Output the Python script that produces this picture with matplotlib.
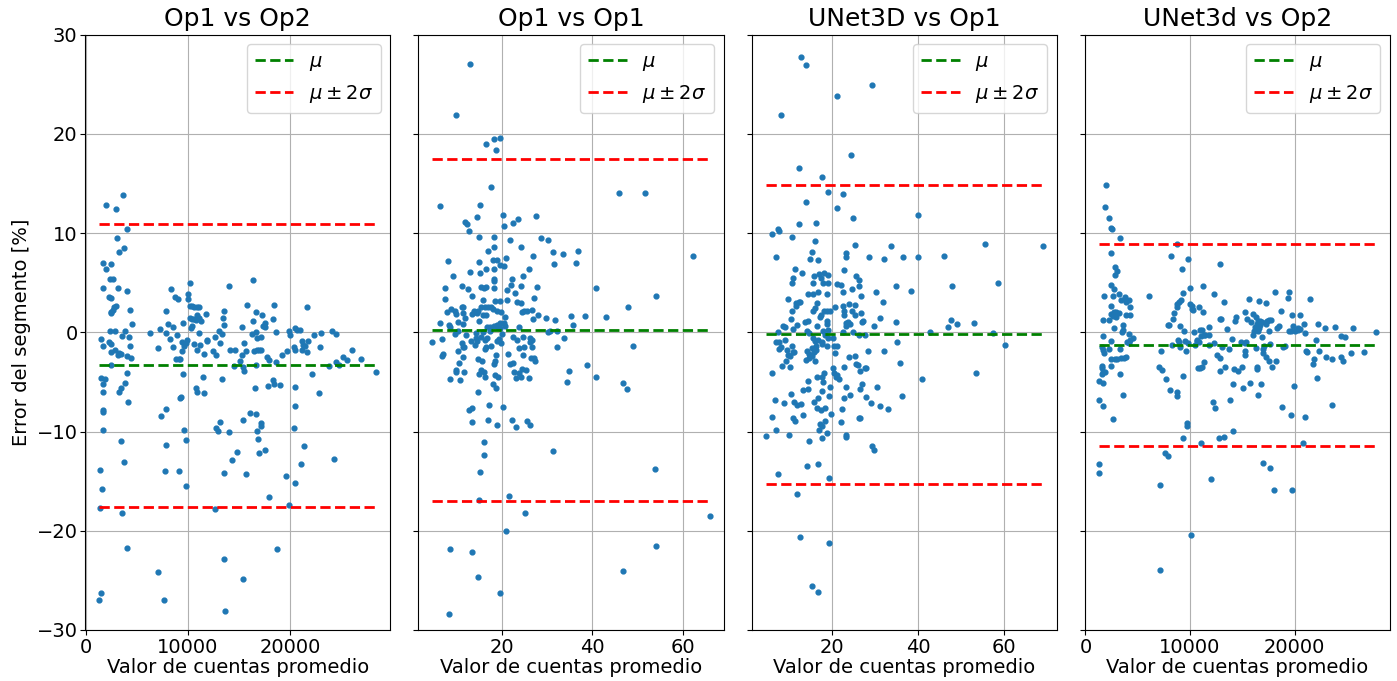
import numpy as np
import matplotlib
matplotlib.use("Agg")
import matplotlib.pyplot as plt

titles = ["Op1 vs Op2", "Op1 vs Op1", "UNet3D vs Op1", "UNet3d vs Op2"]

# (valor promedio, error %)
op1_op2 = [
    (1960, 12.8), (2930, 12.4), (3650, 13.8), (4080, 10.4),
    (3030, 9.5), (3750, 8.5), (3290, 8.1), (1730, 7.0), (2510, 6.9), (1990, 6.4), (2380, 5.4), (2710, 5.4),
    (1660, 4.5), (3130, 4.5), (4010, 4.2), (2320, 3.6), (2510, 3.5), (2970, 2.7), (2770, 2.6), (2670, 2.3),
    (2510, 2.0), (2450, 1.9), (4340, 2.3), (4500, 0.8), (2380, 0.1), (2840, 0.1), (3880, 0.1), (3550, -0.4),
    (1530, -0.7), (2280, -1.0), (2450, -1.2), (1730, -1.4), (4270, -0.5), (4300, -1.4), (2870, -1.8),
    (2510, -2.0), (3260, -2.1), (3460, -2.2), (3200, -2.3), (4080, -2.4), (4470, -2.6), (2510, -3.3),
    (1530, -4.6), (1890, -4.7), (1730, -5.2), (1660, -6.0), (4010, -4.1), (3850, -5.1), (3420, -5.6),
    (3290, -6.0), (4170, -7.0), (1660, -7.8), (1660, -8.0),
    (6260, -0.1), (7240, 0.3), (7040, -1.6), (7890, 2.2), (8310, 4.4), (8090, 0.8), (8510, 0.5), (7890, -0.1),
    (8280, -0.7), (8510, -1.5), (8740, 3.6), (9030, 3.4), (8930, -0.3), (9550, 0.9), (9450, -1.0),
    (9590, -1.4), (9450, -1.9), (8870, -2.7), (9130, -2.7), (9230, -2.7), (9550, -4.2), (9230, -6.6),
    (9290, -6.5), (7820, -7.7), (7340, -8.4), (9880, -0.8), (9780, -1.1), (9980, 3.4), (10040, 3.9),
    (10170, 5.0), (10240, 2.7), (10430, 2.7), (10600, 2.6), (10920, 2.6), (11080, 2.6), (10170, 1.4),
    (10430, 1.3), (10630, 1.3), (10790, 1.2), (10920, 1.7), (11080, 1.4), (11310, 1.1), (11740, 1.8),
    (10370, 0.6), (10270, 0.4), (11120, -0.1), (10600, -1.2), (11180, -1.3), (10920, -1.8), (11540, -2.2),
    (11830, -0.8), (11900, -0.9), (10760, -5.6), (10860, -6.0), (11540, -6.1), (11440, -4.5), (12450, -1.9),
    (12780, -2.3), (12680, -0.5), (13100, 0.1), (13370, -0.2), (13140, -1.1), (13500, 2.2), (13460, 1.4),
    (13530, 0.7), (13300, -4.7), (13140, -9.0), (13990, 4.7), (14180, -1.8), (14670, -1.8), (14570, -3.4),
    (15090, -2.9), (15320, -2.3), (15490, -1.1), (15420, -3.5), (15710, -1.9), (15810, 2.8), (15290, 0.5),
    (15390, -8.8), (16140, -8.1), (16690, -8.2), (17180, -9.1), (15490, -3.9), (16370, 5.3), (16690, 2.0),
    (16430, 1.1), (16240, -0.2), (16720, 0.0), (16460, -1.9), (16820, -1.8), (16980, -1.8), (17180, -1.8),
    (16630, -5.6), (16690, -3.3), (16820, -0.6), (17150, -0.5), (17310, 1.7), (17540, 0.9), (17540, 0.5),
    (17380, 0.6), (17800, -2.5), (17960, -2.8), (17870, -5.4), (18350, -4.8), (18420, -5.2), (19070, -5.3),
    (18320, 1.3), (18480, 2.8), (18680, 0.0), (18680, -3.0), (19200, -2.3), (19720, -1.9), (19950, 0.1),
    (20050, -0.3), (20510, -1.8), (20540, -5.5), (20510, -7.4), (20440, -9.6), (20540, 0.4), (20700, 0.2),
    (20960, 0.2), (20440, -1.5), (21160, -0.9), (21190, -1.8), (21290, -1.3), (21520, -1.4), (21810, -0.9),
    (21710, -2.0), (21650, 2.6), (22140, -4.2), (22400, -0.3), (23050, -0.1), (22980, -1.5), (22890, -6.1),
    (23800, -3.4), (24120, 0.1), (24520, -0.2), (24550, -3.0), (24780, -3.3), (25200, -2.5), (25590, -2.8),
    (26080, -1.8), (26930, -2.7), (28490, -4.0),
    (1730, -9.8), (3460, -11.0), (3720, -13.1), (1370, -13.9), (1630, -15.8), (1370, -17.7), (3550, -18.2),
    (4010, -21.7), (1470, -26.3), (1300, -27.0), (7890, -11.4), (7730, -14.0), (7110, -24.2), (7660, -27.0),
    (9130, -14.0), (9650, -9.8), (9780, -10.9), (9780, -15.5), (12680, -17.8), (12780, -9.6), (12910, -9.9),
    (14080, -10.0), (14830, -12.1), (14340, -12.9), (13560, -14.2), (13560, -22.9), (13690, -28.1),
    (15710, -14.3), (15390, -24.9), (16790, -9.9), (16850, -10.8), (16950, -12.2), (17540, -11.9),
    (17210, -9.4), (18000, -16.6), (18780, -21.8), (19630, -14.5), (19890, -17.4), (20510, -15.2),
    (21090, -13.3), (21350, -11.5), (24320, -12.8),
]

op1_op1 = [
    (12.9, 27.0), (9.7, 21.9), (16.3, 19.0), (18.2, 19.5), (19.6, 19.6), (18.7, 18.4), (17.5, 14.6), (6.2, 12.7),
    (15.0, 12.8), (14.3, 11.6), (11.7, 11.1), (12.3, 10.9), (20.1, 11.8), (20.5, 10.7), (22.4, 11.0), (23.5, 11.4),
    (27.5, 11.7), (45.9, 14.0), (51.7, 14.0),
    (12.7, 10.2), (14.8, 9.6), (18.2, 9.6), (21.8, 9.3), (24.1, 8.6), (28.5, 9.5), (30.1, 9.3), (18.2, 8.6),
    (16.8, 8.2), (7.9, 7.2), (14.8, 7.1), (18.0, 7.3), (18.8, 7.3), (20.9, 7.5), (19.5, 6.8), (20.4, 6.7),
    (26.8, 7.7), (31.3, 8.1), (33.5, 7.9), (36.9, 8.2), (36.4, 7.0), (31.5, 6.9), (12.9, 6.1), (15.0, 6.0),
    (16.3, 6.4), (18.2, 6.4), (26.0, 6.4), (9.1, 5.7), (18.2, 5.4), (18.2, 5.2), (22.1, 5.4), (24.6, 5.7),
    (7.3, 4.5), (11.0, 4.7), (12.4, 4.4), (15.4, 4.6), (16.0, 4.5), (16.3, 4.6), (18.2, 4.5), (21.1, 4.3),
    (22.8, 4.0), (22.0, 4.8), (24.2, 4.7), (27.7, 4.6), (40.8, 4.5), (54.2, 3.7), (7.3, 3.4), (13.4, 3.7),
    (15.8, 3.3), (18.5, 3.2), (19.6, 3.2), (21.0, 3.3), (23.3, 3.1), (24.1, 3.0), (27.0, 3.5), (47.8, 2.6),
    (8.7, 2.4), (9.6, 2.2), (11.0, 2.6), (11.4, 2.6), (7.7, 2.0), (9.8, 1.8), (11.4, 1.9), (13.7, 2.1),
    (14.6, 2.1), (15.4, 2.6), (16.2, 2.6), (16.8, 2.6), (17.6, 2.6), (18.0, 2.4), (13.4, 1.8), (13.9, 2.0),
    (14.3, 1.9), (15.8, 1.7), (16.5, 1.7), (18.9, 2.1), (19.8, 2.0), (24.3, 2.0), (24.9, 2.1), (25.5, 2.2),
    (26.6, 2.3), (20.7, 1.5), (27.9, 1.7), (29.8, 1.4), (31.6, 1.2), (26.9, 1.3), (35.2, 1.6), (38.3, 1.6),
    (43.1, 1.5), (35.6, 0.7), (6.2, 0.9), (8.1, 0.7), (8.4, 0.5), (10.3, 1.0), (11.2, 0.8), (11.7, 1.4),
    (14.8, 1.1), (16.6, 0.5), (17.4, 0.5), (18.2, 0.6), (18.8, 0.7), (19.5, 0.9), (20.4, 0.9), (20.7, 0.6),
    (19.6, 0.4), (19.0, 0.5), (23.8, 0.5), (9.5, -0.2), (10.1, 0.1), (11.9, -0.3), (14.2, -0.1), (15.7, 0.0),
    (17.4, 0.1), (19.9, -0.2), (30.1, 0.0), (30.7, 0.1), (32.2, 0.1), (4.5, -1.0), (6.6, -0.7), (6.6, -2.4),
    (6.8, -2.2), (10.1, -1.9), (11.4, -1.5), (11.0, -1.1), (11.6, -1.5), (13.0, -0.9), (14.1, -0.6),
    (14.3, -0.9), (15.2, -0.5), (16.1, -0.8), (16.7, -0.6), (14.0, -1.3), (16.1, -1.7), (16.3, -1.5),
    (17.6, -1.4), (18.9, -0.9), (19.3, -0.7), (19.8, -1.1), (11.2, -2.5), (10.4, -3.1), (18.7, -2.3),
    (21.3, -2.2), (22.5, -0.5), (23.2, -0.8), (23.8, -1.6), (24.9, -1.5), (24.5, -0.5), (26.1, -0.6),
    (26.6, -0.8), (26.2, -1.0), (26.7, -1.5), (24.7, -2.3), (26.3, -2.6), (27.1, -2.6), (27.3, -2.9),
    (14.6, -2.7), (15.5, -2.9), (18.3, -2.9), (18.1, -3.2), (21.7, -3.2), (22.3, -3.1), (22.6, -4.0),
    (23.8, -4.1), (24.4, -3.7), (25.2, -3.8), (24.2, -4.5), (23.0, -4.6), (26.0, -4.6), (9.7, -3.8),
    (9.8, -4.0), (11.5, -4.0), (8.4, -4.7), (10.7, -4.8), (14.8, -4.2), (15.4, -3.8), (16.0, -4.0),
    (16.1, -4.5), (18.5, -4.3), (19.1, -4.5), (17.9, -5.2), (18.7, -5.6), (14.6, -6.0), (32.2, -1.5),
    (33.6, -0.6), (34.7, -3.9), (34.4, -5.0), (38.7, -3.3), (40.7, -4.5), (48.9, -1.4), (46.7, -5.1),
    (47.6, -5.7), (62.3, 7.7), (12.6, -7.8), (13.2, -7.6), (17.0, -7.3), (20.1, -7.5), (13.2, -9.0),
    (16.8, -8.8), (18.9, -9.3), (22.2, -8.8), (25.6, -8.9), (26.2, -9.3),
    (23.0, -9.5), (16.0, -11.1), (16.0, -12.4), (31.3, -12.0), (15.1, -14.1), (14.9, -16.9), (21.5, -16.5),
    (25.0, -18.2), (20.9, -20.0), (53.9, -13.8), (66.0, -18.5), (8.5, -21.8), (13.4, -22.1), (54.2, -21.5),
    (46.7, -24.1), (14.6, -24.7), (19.5, -26.3), (8.3, -28.4),
]

unet_op1 = [
    (12.9, 27.8), (14.1, 26.9), (29.3, 24.9), (21.2, 23.8), (8.3, 21.9), (24.4, 17.9), (12.4, 16.6), (17.6, 15.7),
    (19.2, 14.1), (22.6, 13.9), (13.9, 13.1), (21.2, 12.5), (25.0, 11.5), (40.0, 11.8), (12.3, 10.9), (16.4, 11.0),
    (7.6, 10.4),
    (6.1, 9.9), (7.7, 10.2), (10.7, 9.6), (16.0, 9.2), (7.1, 7.6), (15.4, 8.1), (15.0, 7.4), (16.8, 7.3),
    (23.2, 8.0), (23.2, 7.6), (25.4, 8.8), (28.7, 7.6), (32.2, 7.4), (33.7, 8.7), (36.5, 7.6), (40.1, 7.6),
    (46.0, 7.7), (55.5, 8.9), (69.0, 8.7), (11.5, 6.4), (13.0, 6.0), (11.0, 5.5), (10.7, 5.0), (15.8, 5.7),
    (15.7, 5.0), (16.9, 5.9), (17.4, 5.5), (18.2, 6.0), (19.1, 5.8), (17.9, 5.0), (19.2, 5.0), (22.9, 6.3),
    (25.6, 5.7), (26.4, 5.3), (21.3, 4.9), (22.1, 4.8), (26.3, 4.7), (24.6, 4.4), (22.6, 4.1), (26.7, 3.7),
    (14.4, 3.9), (15.6, 3.9), (16.8, 4.1), (18.8, 3.9), (9.8, 3.4), (11.7, 3.0), (12.3, 3.1), (12.7, 3.1),
    (11.6, 2.7), (16.5, 3.0), (16.1, 2.5), (20.7, 2.6), (22.6, 2.7), (23.9, 2.9), (25.4, 2.8), (22.9, 2.2),
    (10.8, 2.2), (15.6, 2.2), (17.5, 1.7), (17.2, 1.5), (18.2, 2.2), (18.8, 2.1), (19.5, 2.1), (24.6, 2.1),
    (26.7, 1.9), (25.4, 1.7), (22.9, 1.7), (10.4, 1.3), (14.4, 1.1), (13.8, 1.0), (18.8, 1.1), (18.8, 0.8),
    (16.5, 0.6), (23.3, 0.9), (23.8, 1.0), (24.2, 0.8), (23.2, 0.6), (27.0, 1.0), (27.3, 1.1), (30.2, 4.1),
    (31.8, 3.1), (34.8, 4.7), (38.4, 4.2), (31.2, 1.4), (29.7, 0.6), (34.8, 1.0), (47.7, 1.2), (49.0, 0.8),
    (47.0, 0.5), (53.1, 0.9), (47.9, 4.7), (58.6, 5.0), (42.7, 0.0), (57.5, -0.1), (60.3, -1.3), (7.5, 0.0),
    (8.7, 0.6), (9.2, 0.5), (10.9, 0.3), (12.0, 0.7), (14.2, 0.1), (14.7, -0.1), (18.0, 0.1), (19.1, 0.2),
    (18.4, -0.3), (22.5, 0.0), (24.9, 0.0), (26.3, -0.3), (27.6, -0.3), (7.1, -1.0), (7.7, -1.0), (9.2, -0.8),
    (7.8, -1.7), (8.3, -1.5), (10.8, -1.4), (11.0, -2.0), (11.2, -2.0), (9.6, -1.8), (9.9, -2.3), (10.2, -2.4),
    (9.4, -2.9), (8.4, -3.4), (10.3, -3.5), (6.1, -4.1), (15.6, -0.6), (16.0, -0.9), (16.7, -0.8), (17.7, -1.0),
    (18.8, -1.4), (17.6, -1.2), (14.3, -1.9), (14.8, -2.2), (15.8, -2.0), (16.4, -1.8), (16.3, -1.4),
    (15.3, -1.6), (14.1, -2.8), (14.7, -2.6), (16.0, -2.9), (15.4, -2.4), (20.2, -0.6), (20.5, -1.4),
    (21.2, -1.4), (20.7, -2.1), (19.2, -0.6), (23.9, -2.5), (25.4, -2.4), (25.6, -3.2), (26.0, -3.3),
    (27.9, -3.6), (22.9, -3.5), (28.3, -1.9), (32.2, -1.9), (35.1, -1.0), (35.9, -3.1), (18.2, -4.1),
    (16.5, -4.5), (17.6, -4.5), (20.2, -3.6), (20.5, -4.1), (21.2, -4.3), (21.0, -4.5), (21.6, -4.7),
    (26.5, -3.9), (27.6, -3.6), (14.4, -4.9), (17.9, -5.0), (19.5, -5.5), (13.4, -5.8), (14.5, -5.7),
    (17.6, -5.9), (16.8, -6.6), (15.8, -7.0), (23.3, -5.5), (26.9, -5.2), (26.6, -5.7), (24.3, -6.3),
    (22.9, -6.6), (27.9, -6.5), (29.2, -7.1), (31.1, -7.4), (33.0, -7.7), (30.5, -5.5), (36.3, -6.4),
    (40.9, -4.7), (53.4, -4.1), (6.7, -6.8), (8.8, -7.1), (10.6, -6.2), (11.2, -7.0), (11.8, -7.3),
    (12.9, -7.2), (16.6, -7.6), (17.5, -7.8), (18.5, -7.6), (19.4, -6.4), (22.3, -7.7), (13.4, -8.3),
    (6.0, -8.5), (11.0, -8.6), (11.5, -8.9), (19.7, -8.2), (18.3, -8.9), (17.3, -9.2), (22.2, -9.0),
    (26.2, -8.6), (26.6, -8.6),
    (4.6, -10.5), (7.0, -9.8), (10.0, -10.3), (14.7, -11.0), (16.9, -9.8), (17.6, -9.4), (17.8, -10.7),
    (18.8, -10.1), (23.2, -10.4), (23.2, -10.6), (29.3, -11.5), (29.7, -11.9), (7.5, -14.3), (14.3, -13.5),
    (16.8, -13.3), (19.4, -14.7), (12.0, -16.3), (12.7, -20.6), (19.4, -21.2), (15.4, -25.6), (16.8, -26.2),
]

unet_op2 = [
    (2010, 14.9), (1910, 12.6), (2260, 11.5), (2480, 10.5),
    (2520, 10.4), (3280, 9.5), (8730, 8.9), (2420, 8.0), (8190, 7.7), (9780, 7.4), (12840, 6.9), (2840, 6.6),
    (3030, 6.2), (2870, 5.8), (9210, 6.4), (2420, 4.8), (2740, 4.4), (1750, 3.7), (2640, 3.7), (3190, 3.9),
    (3380, 3.3), (3760, 3.6), (3920, 3.3), (4200, 3.3), (3850, 3.1), (6050, 3.7), (9970, 4.5), (11280, 4.7),
    (12290, 3.9), (9330, 4.0), (9110, 3.3), (8790, 2.9), (8950, 3.1), (8730, 2.6), (10190, 2.7), (10290, 2.3),
    (10830, 2.6), (13220, 3.1), (15610, 3.4), (16590, 3.2), (17290, 3.0), (18150, 4.1), (19360, 3.5),
    (19430, 4.1), (21440, 3.4), (2480, 2.7), (2450, 1.8), (2740, 2.0), (2610, 1.6), (2960, 2.0), (3190, 1.9),
    (2960, 1.5), (4240, 2.6), (3850, 1.7), (4300, 1.7), (1690, 1.2), (2260, 1.2), (3600, 0.7), (2770, 0.4),
    (3470, 0.0), (3600, 0.2), (4140, -0.2), (4550, -0.6), (4300, -0.8), (4010, -1.0), (4170, -1.1),
    (1690, -0.4), (2450, -0.9), (1620, -1.5), (1690, -1.8), (1750, -2.1), (2230, -1.7), (3280, -1.7),
    (2480, -2.7), (2800, -2.7), (3060, -2.7), (3410, -2.6), (3660, -2.6), (3850, -2.5), (2480, -3.4),
    (1560, -3.4), (1620, -3.6), (1690, -4.0), (1560, -4.2), (1910, -4.0), (3280, -4.2), (1270, -4.9),
    (1690, -5.1), (3600, -6.3), (1340, -6.8), (1660, -7.4), (2680, -8.7), (7260, -1.9), (7070, -3.5),
    (7360, -3.8), (7680, -4.7), (8090, -5.8), (8730, -6.0), (8760, -6.4), (8030, 0.7), (7900, 0.7),
    (8350, 1.3), (8500, 1.9), (9080, 0.6), (9400, 0.1), (8860, -0.8), (8950, -1.0), (9080, -1.5), (9520, -0.9),
    (9620, -1.9), (9780, -1.1), (8310, -1.3), (9300, -4.4), (9750, -9.1), (10030, 2.9), (10220, 2.4),
    (10350, 0.0), (10640, -0.9), (10480, -1.3), (10830, -1.0), (10700, -0.8), (10930, 0.2), (11150, 0.2),
    (11310, -0.3), (11050, -0.4), (11470, -0.3), (11820, -0.3), (11280, 2.0), (11790, 0.5), (11370, -3.0),
    (11180, -3.5), (10930, -3.6), (10730, -3.6), (11820, -1.3), (12330, -1.1), (12580, -2.3), (12840, -2.6),
    (12840, -3.9), (13310, -3.5), (13060, -1.5), (12900, 1.3), (12990, 1.3), (13540, 0.3), (13730, -1.7),
    (12200, -7.0), (12420, -7.6), (14050, -0.7), (14270, 1.1), (14360, 1.5), (14170, -3.7), (14590, -3.9),
    (14940, -3.5), (14080, -5.2), (15030, -5.6), (13860, -6.8), (14870, -1.0), (15260, -1.1), (15350, -1.0),
    (15220, -1.9), (15260, -2.3), (15220, 2.0), (15420, 1.3), (15800, 1.0), (15770, -5.1), (15990, -0.3),
    (16120, 0.1), (16210, 0.5), (16370, 0.8), (16470, 1.1), (16630, 0.4), (16720, 0.7), (16530, 0.1),
    (16020, 1.8), (16310, 1.5), (16660, 1.1), (16910, 1.0), (17230, 0.8), (17390, 1.1), (17550, 1.2),
    (17740, 1.2), (16310, -1.6), (16430, -3.5), (16430, -3.7), (16530, -6.3), (16780, -5.2), (16980, -1.7),
    (17070, -1.4), (16880, -0.5), (16980, -2.1), (17290, -2.5), (17580, -2.9), (17800, -3.5), (18220, -2.9),
    (17640, -1.2), (17550, 0.1), (18310, 0.4), (18540, 0.6), (18730, 2.2), (19050, -1.4), (18860, -1.5),
    (19460, 0.1), (19650, 0.1), (19840, 0.6), (20000, 0.1), (20290, 0.2), (20380, 0.4), (20540, 0.3),
    (20860, 0.8), (21050, -0.1), (19750, 1.7), (20510, 1.7), (19910, -5.4), (18790, -7.5), (19620, -8.3),
    (20960, -8.5), (21120, -1.9), (21240, -2.0), (21790, -3.2), (21910, -2.7), (22140, -4.6), (22040, -0.8),
    (22300, -1.9), (22230, 0.8), (22960, 0.4), (23030, -2.5), (23540, -2.7), (23600, -7.3), (23920, 0.5),
    (24400, -0.4), (24840, -0.5), (24430, -2.5), (24620, -2.9), (25420, -2.1), (25610, 0.4), (26690, -2.0),
    (27810, 0.0),
    (9710, -9.4), (9300, -10.7), (11080, -11.2), (12800, -10.7), (13280, -10.6), (14080, -9.9), (20770, -11.2),
    (1340, -13.3), (1270, -14.2), (7610, -12.2), (7930, -12.5), (7100, -15.4), (12010, -14.8), (16940, -13.2),
    (17610, -13.7), (18060, -15.9), (19750, -15.9), (10070, -20.4), (7100, -24.0),
]

means = [-3.3, 0.2, -0.2, -1.3]
upper = [10.9, 17.5, 14.9, 8.9]
lower = [-17.6, -17.0, -15.3, -11.5]

datasets = [op1_op2, op1_op1, unet_op1, unet_op2]

fig, axes = plt.subplots(1, 4, figsize=(13.97, 6.81), dpi=100, sharey=True)
fig.subplots_adjust(left=0.061, right=0.995, top=0.949, bottom=0.075, wspace=0.092)

for i, ax in enumerate(axes):
    pts = np.array(datasets[i])
    x, y = pts[:, 0], pts[:, 1]
    ax.scatter(x, y, s=12, color="tab:blue", zorder=2)
    xmin, xmax = x.min(), x.max()
    ax.hlines(means[i], xmin, xmax, colors="g", linestyles="--", linewidth=2, label=r"$\mu$", zorder=3)
    ax.hlines(upper[i], xmin, xmax, colors="r", linestyles="--", linewidth=2, label=r"$\mu \pm 2\sigma$", zorder=3)
    ax.hlines(lower[i], xmin, xmax, colors="r", linestyles="--", linewidth=2, zorder=3)
    ax.set_ylim(-30, 30)
    ax.set_yticks([-30, -20, -10, 0, 10, 20, 30])
    ax.grid(True, zorder=0)
    ax.set_axisbelow(True)
    ax.set_title(titles[i], fontsize=18)
    ax.set_xlabel("Valor de cuentas promedio", fontsize=14, labelpad=1)
    ax.tick_params(labelsize=14, pad=2)
    ax.legend(loc="upper right", fontsize=14)

axes[0].set_ylabel("Error del segmento [%]", fontsize=14)

fig.savefig("out.png", dpi=100)
